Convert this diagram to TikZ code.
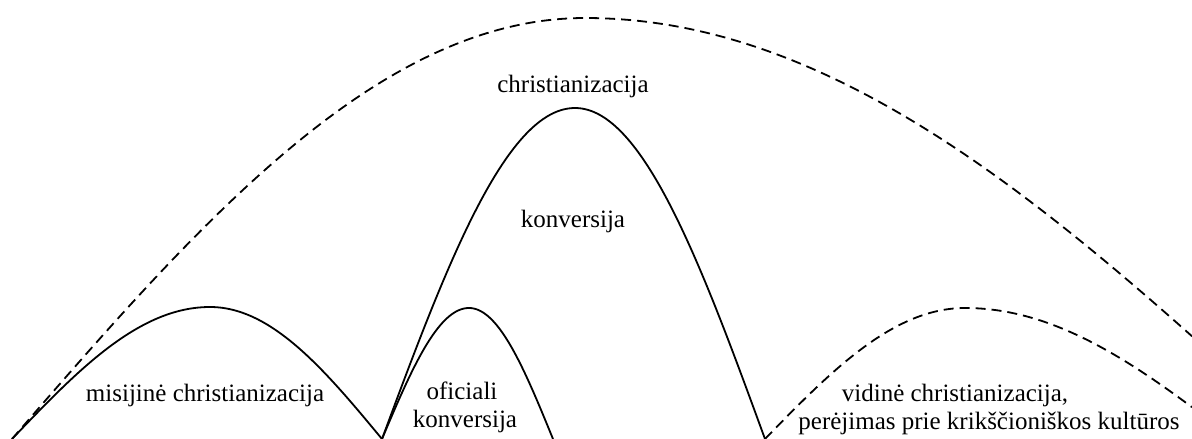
\documentclass[tikz,border=0pt]{standalone}
\usepackage{fontspec}
\setmainfont{Liberation Serif}
\usetikzlibrary{positioning}

\begin{document}
\begin{tikzpicture}[
    x=1pt, y=1pt,
    arc/.style={draw, line width=1.8pt, samples=80, smooth},
    dasharc/.style={arc, dash pattern=on 10pt off 6pt},
    every node/.style={font=\fontsize{25}{30}\selectfont, anchor=base, inner sep=0pt}
]
\useasboundingbox (0,0) rectangle (1192,439);

% solid arches
\draw[arc] plot[domain=12:210] (\x,{132*sin((\x-12)/198*90)})
    -- plot[domain=210:382] (\x,{132*cos((\x-210)/172*90)});
\draw[arc] plot[domain=382:469] (\x,{131*sin((\x-382)/87*90)})
    -- plot[domain=469:553] (\x,{131*cos((\x-469)/84*90)});
\draw[arc] plot[domain=382:575] (\x,{331*sin((\x-382)/193*90)})
    -- plot[domain=575:765] (\x,{331*cos((\x-575)/190*90)});

% dashed arches
\draw[dasharc] plot[domain=12:585] (\x,{421*sin((\x-12)/573*90)})
    -- plot[domain=585:1192] (\x,{421*cos((\x-585)/720*90)});
\draw[dasharc] plot[domain=765:965] (\x,{131*sin((\x-765)/200*90)})
    -- plot[domain=965:1192] (\x,{131*cos((\x-965)/269*90)});

\node (christ) at (573,346) {christianizacija};
\node (konv) at (573,211) {konversija};
\node (misi) at (205,37) {misijinė christianizacija};
\node (ofic) at (462,39) {oficiali};
\node (oficb) at (465,11) {konversija};
\node (vidine) at (955,37) {vidinė christianizacija,};
\node (perej) at (989,9) {perėjimas prie krikščioniškos kultūros};

\end{tikzpicture}
\end{document}
